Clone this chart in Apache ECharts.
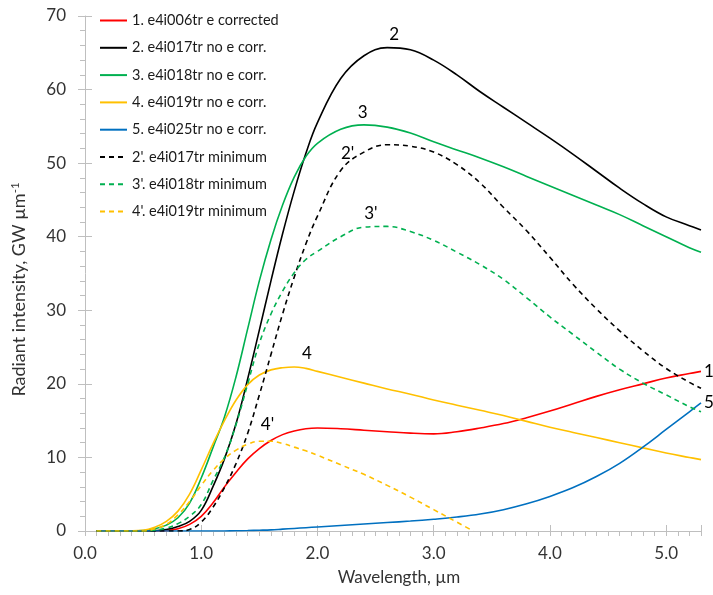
<!DOCTYPE html>
<html><head><meta charset="utf-8">
<script src="https://cdn.jsdelivr.net/npm/echarts@6/dist/echarts.min.js"></script>
<style>html,body{margin:0;padding:0;background:#fff}#c{width:713px;height:595px}</style>
</head><body><div id="c"></div>
<script>
// Wavelength grid (µm) shared by most series
const wavelengths = [0.1,0.3,0.5,0.6,0.7,0.8,0.9,1.0,1.1,1.2,1.3,1.4,1.5,1.6,1.7,1.8,1.9,2.0,2.2,2.4,2.6,2.8,3.0,3.2,3.4,3.6,3.8,4.0,4.2,4.4,4.6,4.8,5.0,5.2,5.3];
const s1_e4i006 = [0,0,0,0,0.05,0.3,0.9,2.0,3.8,6.0,8.0,9.8,11.2,12.3,13.1,13.6,13.9,14.0,13.9,13.7,13.5,13.3,13.2,13.5,14.0,14.6,15.4,16.3,17.3,18.3,19.2,20.0,20.8,21.4,21.7];
const s2_e4i017 = [0,0,0,0.05,0.2,0.6,1.3,2.8,6.0,9.8,14.6,20.7,27.3,34.0,40.4,46.2,51.3,55.5,61.5,64.6,65.7,65.4,64.0,62.0,59.7,57.6,55.5,53.4,51.2,48.9,46.6,44.5,42.7,41.5,40.9];
const s3_e4i018 = [0,0,0.05,0.3,0.8,1.8,3.8,7.2,11.3,15.5,21.0,27.5,34.0,39.6,44.3,48.1,50.9,52.7,54.6,55.2,54.9,54.1,52.9,51.8,50.7,49.5,48.2,46.9,45.6,44.3,43.0,41.5,40.0,38.5,37.9];
const s4_e4i019 = [0,0,0.1,0.5,1.3,2.7,5.0,8.3,11.8,15.0,17.8,19.9,21.2,21.9,22.2,22.3,22.1,21.7,20.9,20.1,19.3,18.6,17.8,17.1,16.4,15.7,14.9,14.1,13.4,12.7,12.0,11.3,10.6,10.0,9.7];
const s5_e4i025 = [0,0,0,0,0,0,0,0,0,0.01,0.03,0.06,0.1,0.15,0.25,0.35,0.45,0.55,0.75,0.95,1.15,1.35,1.6,1.9,2.3,2.9,3.7,4.7,5.9,7.4,9.2,11.4,13.8,16.2,17.4];
const s2min_e4i017 = [0,0,0,0,0,0,0.2,1.2,3.2,5.9,9.2,13.3,18.5,24.0,29.5,34.5,39.0,42.8,49.0,51.5,52.5,52.3,51.5,49.8,47.3,44.0,40.8,37.2,33.5,30.2,27.2,24.5,22.1,20.2,19.4];
const s3min_e4i018 = [0,0,0,0.1,0.4,1.0,2.0,3.6,6.8,10.0,14.5,20.0,25.5,29.5,32.6,35.1,36.9,38.0,40.0,41.3,41.4,40.7,39.5,37.9,36.2,34.2,31.7,29.1,26.7,24.3,22.0,20.1,18.5,16.9,16.2];
// 4' ends where it reaches zero
const wavelengths4min = [0.1,0.3,0.5,0.6,0.7,0.8,0.9,1.0,1.1,1.2,1.3,1.4,1.5,1.6,1.7,1.8,1.9,2.0,2.2,2.4,2.6,2.8,3.0,3.2,3.34];
const s4min_e4i019 = [0,0,0,0.3,0.9,2.2,4.0,6.2,8.2,9.8,11.0,11.8,12.2,12.2,11.9,11.4,10.9,10.3,9.0,7.7,6.2,4.6,2.9,1.2,0];

const seriesNames = ['1. e4i006tr e corrected','2. e4i017tr no e corr.','3. e4i018tr no e corr.','4. e4i019tr no e corr.','5. e4i025tr no e corr.',"2'. e4i017tr minimum","3'. e4i018tr minimum","4'. e4i019tr minimum"];
const xTicks = [0,1,2,3,4,5];
const yTicks = [0,10,20,30,40,50,60,70];
// curve annotations (text, wavelength, intensity)
const curveLabelText = ['1','2','3','4','5',"2'","3'","4'"];
const curveLabelWl   = [5.3, 2.66, 2.39, 1.91, 5.3, 2.26, 2.46, 1.57];
const curveLabelVal  = [21.7, 67.5, 56.9, 24.1, 17.4, 51.3, 43.2, 14.5];

const FONT = 'Lato';
const colors = ['#FF0000','#000000','#00B050','#FFC000','#0070C0','#000000','#00B050','#FFC000'];
const dashed = [false,false,false,false,false,true,true,true];
const xs = [wavelengths,wavelengths,wavelengths,wavelengths,wavelengths,wavelengths,wavelengths,wavelengths4min];
const ys = [s1_e4i006,s2_e4i017,s3_e4i018,s4_e4i019,s5_e4i025,s2min_e4i017,s3min_e4i018,s4min_e4i019];

const series = seriesNames.map((name,i)=>{
  const outside = (i===0||i===4);
  return {
    name, type:'line', xAxisIndex:0, yAxisIndex:0,
    data: xs[i].map((x,k)=>[x, ys[i][k]]),
    showSymbol:false, symbol:'none', smooth:0.4,
    color: colors[i],
    lineStyle:{color:colors[i], width:1.6, type: dashed[i] ? [5,4] : 'solid'},
    markPoint:{
      symbol:'circle', symbolSize:0, silent:true,
      label:{show:true, formatter: curveLabelText[i], position: outside ? 'right' : 'inside', distance:3,
             color:'#000', fontSize:17, fontFamily:FONT},
      data:[{coord:[curveLabelWl[i], curveLabelVal[i]]}]
    }
  };
});

const axisGray = '#BFBFBF';
const chart = echarts.init(document.getElementById('c'));
chart.setOption({
  animation:false,
  backgroundColor:'#fff',
  grid:{left:85, right:12, top:16, bottom:64, containLabel:false},
  legend:{
    orient:'vertical', left:94, top:8, itemWidth:27, itemHeight:14, itemGap:12.3,
    itemStyle:{opacity:0},
    textStyle:{fontSize:14.5, color:'#1a1a1a', fontFamily:FONT},
    data: seriesNames
  },
  xAxis:[
    {type:'value', min:0, max:5.3, interval:0.1, position:'bottom',
     axisLine:{show:true, lineStyle:{color:axisGray, width:1}},
     axisTick:{show:true, length:5, lineStyle:{color:axisGray}},
     axisLabel:{margin:14, fontSize:17, color:'#333', fontFamily:FONT,
       formatter:v=>{const r=Math.round(v*10)/10; return xTicks.indexOf(r)>=0 ? r.toFixed(1) : '';}},
     splitLine:{show:false},
     name:'Wavelength, µm', nameLocation:'middle', nameGap:38,
     nameTextStyle:{fontSize:17, color:'#333', fontFamily:FONT, padding:[0,0,0,12]}},
    {type:'value', min:0, max:5.3, interval:1, position:'bottom',
     axisLine:{show:false}, axisLabel:{show:false}, splitLine:{show:false},
     axisTick:{show:true, inside:true, length:6, lineStyle:{color:axisGray}}}
  ],
  yAxis:[
    {type:'value', min:0, max:70, interval:2, position:'left',
     axisLine:{show:true, lineStyle:{color:axisGray, width:1}},
     axisTick:{show:true, length:5, lineStyle:{color:axisGray}},
     axisLabel:{margin:19, fontSize:17, color:'#333', fontFamily:FONT,
       formatter:v=>{const r=Math.round(v); return yTicks.indexOf(r)>=0 && Math.abs(v-r)<1e-6 ? String(r) : '';}},
     splitLine:{show:false},
     name:'{a|Radiant intensity, GW µm}{b|-1}', nameLocation:'middle', nameGap:55, nameRotate:90,
     nameTextStyle:{fontFamily:FONT, color:'#333', padding:[0,32,0,0],
       rich:{a:{fontSize:18, lineHeight:21, fontFamily:FONT, color:'#333'},
             b:{fontSize:11.5, lineHeight:12, verticalAlign:'top', fontFamily:FONT, color:'#333'}}}},
    {type:'value', min:0, max:70, interval:10, position:'left',
     axisLine:{show:false}, axisLabel:{show:false}, splitLine:{show:false},
     axisTick:{show:true, length:7, lineStyle:{color:axisGray}}},
    {type:'value', min:0, max:70, interval:10, position:'left',
     axisLine:{show:false}, axisLabel:{show:false}, splitLine:{show:false},
     axisTick:{show:true, inside:true, length:7, lineStyle:{color:axisGray}}}
  ],
  series
});
</script></body></html>
